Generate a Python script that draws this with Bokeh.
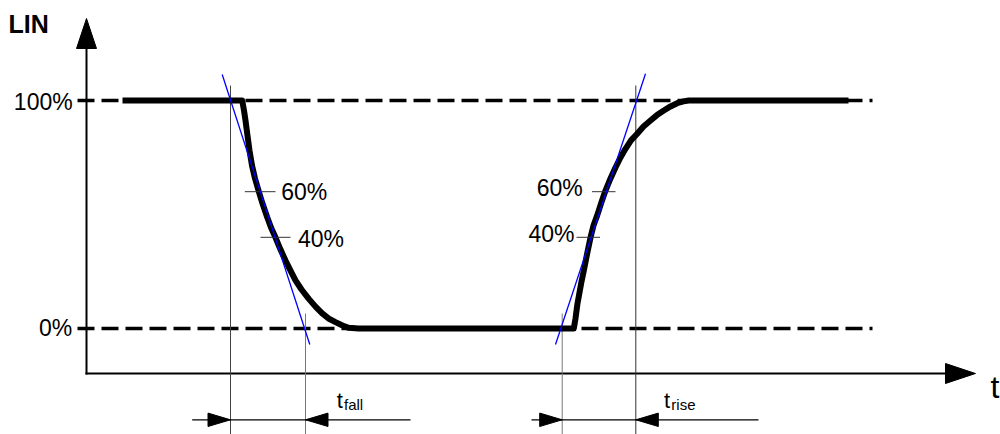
from bokeh.plotting import figure
from bokeh.models import Range1d
from bokeh.embed import file_html
from bokeh.resources import INLINE
from bokeh.core.properties import value

# ---------------- data (time in diagram units, level in %) ----------------
signal_time = [122.0, 241.7, 243.5, 245.0, 247.0, 249.0, 251.5, 254.5, 258.3, 262.0,
               266.7, 270.5, 275.0, 280.0, 285.0, 290.0, 295.0, 301.0, 308.3, 315.0,
               321.7, 328.0, 335.0, 342.0, 348.3, 358.0,
               573.3, 575.0, 577.0, 579.0, 581.0, 583.3, 586.5, 590.0, 593.0, 596.7,
               600.5, 605.0, 610.0, 615.0, 620.0, 625.0, 630.5, 636.7, 643.0, 650.0,
               656.5, 663.3, 670.0, 676.7, 683.0, 688.3, 848.0]
signal_level = [100.0, 100.0, 95.6, 91.2, 84.6, 78.1, 71.5, 65.8, 60.1, 54.8,
                48.8, 44.3, 39.9, 34.6, 29.8, 25.4, 21.1, 17.1, 13.0, 9.6,
                6.6, 4.4, 2.8, 1.3, 0.3, 0.0,
                0.0, 4.4, 11.0, 15.8, 20.6, 25.4, 32.5, 39.9, 45.2, 49.6,
                54.8, 60.5, 65.8, 70.6, 75.0, 78.8, 82.5, 85.4, 88.6, 91.2,
                93.6, 95.6, 97.4, 98.8, 99.6, 100.0, 100.0]

reference_levels = [100, 0]
reference_labels = ["100%", "0%"]

fall_tangent_time = [221.7, 309.3]
fall_tangent_level = [111.4, -7.0]
rise_tangent_time = [555.0, 645.0]
rise_tangent_level = [-7.0, 111.7]

fall_cross_time = [230.0, 305.0]   # tangent crosses 100% and 0%
rise_cross_time = [561.7, 635.3]   # tangent crosses 0% and 100%

mark_levels = [60, 40]
mark_labels = ["60%", "40%"]
edge_names = ["fall", "rise"]
axis_labels = ["LIN", "t"]

# ---------------- layout (page pixels) ----------------
W, H = 1000, 434
Y0 = 328.0          # page y of 0 %
PPL = 2.28          # pixels per %
K = 0.37            # baseline correction (fraction of font size)


def lv(py):
    return (Y0 - py) / PPL


def base(py, fs):
    """level for a text whose alphabetic baseline sits at page y=py"""
    return lv(py - K * fs)


FONT = value("Liberation Sans")

p = figure(width=W, height=H, output_backend="svg", toolbar_location=None,
           x_range=Range1d(0, W), y_range=Range1d(lv(H), lv(0)),
           x_axis_type=None, y_axis_type=None, min_border=0,
           background_fill_color="white", border_fill_color="white")
p.outline_line_color = None
p.grid.visible = False

# reference dashed levels
for lvl in reference_levels:
    p.line([77, 872], [lvl, lvl], line_color="black", line_width=3.5, line_dash="17 7")

# axes
AX, AY = 86, 373
p.line([AX, AX], [lv(AY + 1), lv(47)], line_color="black", line_width=2)
p.patch([AX - 10, AX, AX + 10], [lv(48), lv(18), lv(48)], fill_color="black", line_color="black")
p.line([AX - 1, 946], [lv(AY), lv(AY)], line_color="black", line_width=2)
p.patch([945, 975, 945], [lv(AY - 10), lv(AY), lv(AY + 10)], fill_color="black", line_color="black")

# vertical marker lines
ext = 15 / PPL
fall_tops = [reference_levels[0] + ext, reference_levels[1] + ext]
rise_tops = [reference_levels[1] + ext, reference_levels[0] + ext]
for t, top, col in zip(fall_cross_time, fall_tops, ["#444444", "#777777"]):
    p.line([t, t], [top, lv(440)], line_color=col, line_width=1)
for t, top, col in zip(rise_cross_time, rise_tops, ["#777777", "#333333"]):
    p.line([t, t], [top, lv(440)], line_color=col, line_width=1)

# signal
p.line(signal_time, signal_level, line_color="black", line_width=6, line_join="round")

# level ticks
fall_tick_x = [(244.3, 275.0), (260.0, 290.0)]
rise_tick_x = [(591.5, 615.0), (576.0, 599.5)]
for lvl, (a, b) in zip(mark_levels, fall_tick_x):
    p.line([a, b], [lvl, lvl], line_color="#333333", line_width=1)
for lvl, (a, b) in zip(mark_levels, rise_tick_x):
    p.line([a, b], [lvl, lvl], line_color="#333333", line_width=1)

# tangents
p.line(fall_tangent_time, fall_tangent_level, line_color="#0000ff", line_width=1.3)
p.line(rise_tangent_time, rise_tangent_level, line_color="#0000ff", line_width=1.3)

# texts
txt = dict(text_font=FONT, text_color="black", text_baseline="alphabetic")
p.text(x=[8.0], y=[base(32.3, 25)], text=[axis_labels[0]], text_font_size="25px",
       text_font_style="bold", text_align="left", **txt)
p.text(x=[990.0], y=[base(398, 32)], text=[axis_labels[1]], text_font_size="32px",
       text_align="left", **txt)
p.text(x=[72.2, 71.7], y=[base(110, 23), base(336, 23)],
       text=reference_labels, text_font_size="23px", text_align="right", **txt)
p.text(x=[280.7, 297.5], y=[base(200, 23), base(246.7, 23)],
       text=mark_labels, text_font_size="23px", text_align="left", **txt)
p.text(x=[582.3, 574.0], y=[base(196.5, 23), base(241.7, 23)],
       text=mark_labels, text_font_size="23px", text_align="right", **txt)

# dimension arrows
DY = 419.3
hh = 6.7 / PPL
for (t0, t1), (l0, l1), name, tx in zip(
        [fall_cross_time, rise_cross_time], [(191.7, 410.0), (531.0, 758.0)],
        edge_names, [336.2, 663.5]):
    p.line([l0, l1], [lv(DY), lv(DY)], line_color="black", line_width=1.2)
    p.patch([t0 - 22.5, t0, t0 - 22.5], [lv(DY) + hh, lv(DY), lv(DY) - hh],
            fill_color="black", line_color="black")
    p.patch([t1 + 22.5, t1, t1 + 22.5], [lv(DY) + hh, lv(DY), lv(DY) - hh],
            fill_color="black", line_color="black")
    p.text(x=[tx], y=[base(408.3, 22)], text=["t"], text_font_size="22px",
           text_align="left", **txt)
    p.text(x=[tx + 7.3], y=[base(410, 15)], text=[name], text_font_size="15px",
           text_align="left", **txt)

open("out.html", "w").write(file_html(p, INLINE))
